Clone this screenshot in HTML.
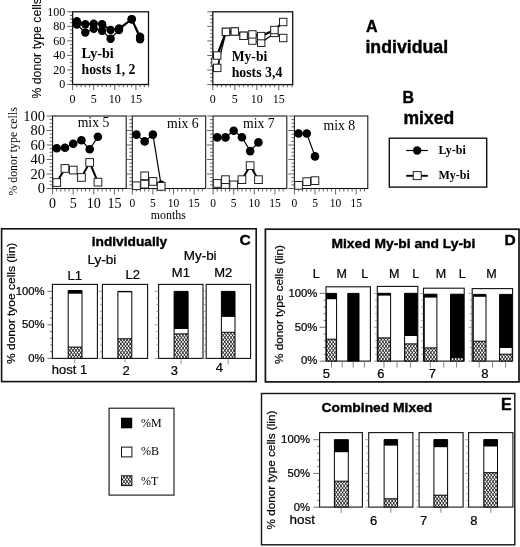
<!DOCTYPE html><html><head><meta charset="utf-8"><style>html,body{margin:0;padding:0;background:#fff}svg{display:block;will-change:transform}.sa{font-family:"Liberation Sans",sans-serif;stroke:#000;stroke-width:.22px}.sa[font-weight=bold]{stroke-width:.4px}.se{font-family:"Liberation Serif",serif}</style></head><body><svg width="520" height="547" viewBox="0 0 520 547"><defs><pattern id="h" width="31.0" height="43.00" patternUnits="userSpaceOnUse"><rect width="31.0" height="43.00" fill="#fff"/><path d="M-34.10 0L-3.10 43.00M-3.10 0L-34.10 43.00M-31.00 0L0.00 43.00M0.00 0L-31.00 43.00M-27.90 0L3.10 43.00M3.10 0L-27.90 43.00M-24.80 0L6.20 43.00M6.20 0L-24.80 43.00M-21.70 0L9.30 43.00M9.30 0L-21.70 43.00M-18.60 0L12.40 43.00M12.40 0L-18.60 43.00M-15.50 0L15.50 43.00M15.50 0L-15.50 43.00M-12.40 0L18.60 43.00M18.60 0L-12.40 43.00M-9.30 0L21.70 43.00M21.70 0L-9.30 43.00M-6.20 0L24.80 43.00M24.80 0L-6.20 43.00M-3.10 0L27.90 43.00M27.90 0L-3.10 43.00M0.00 0L31.00 43.00M31.00 0L0.00 43.00M3.10 0L34.10 43.00M34.10 0L3.10 43.00M6.20 0L37.20 43.00M37.20 0L6.20 43.00M9.30 0L40.30 43.00M40.30 0L9.30 43.00M12.40 0L43.40 43.00M43.40 0L12.40 43.00M15.50 0L46.50 43.00M46.50 0L15.50 43.00M18.60 0L49.60 43.00M49.60 0L18.60 43.00M21.70 0L52.70 43.00M52.70 0L21.70 43.00M24.80 0L55.80 43.00M55.80 0L24.80 43.00M27.90 0L58.90 43.00M58.90 0L27.90 43.00M31.00 0L62.00 43.00M62.00 0L31.00 43.00" stroke="#000" stroke-width="0.8"/></pattern></defs><rect width="520" height="547" fill="#fff"/><rect x="72.6" y="11.8" width="75.9" height="72.7" fill="#fff" stroke="#111" stroke-width="1.3"/><path d="M72.60 84.5v5.5M76.82 84.5v2.7M81.04 84.5v2.7M85.26 84.5v2.7M89.48 84.5v2.7M93.70 84.5v5.5M97.92 84.5v2.7M102.14 84.5v2.7M106.36 84.5v2.7M110.58 84.5v2.7M114.80 84.5v5.5M119.02 84.5v2.7M123.24 84.5v2.7M127.46 84.5v2.7M131.68 84.5v2.7M135.90 84.5v5.5M140.12 84.5v2.7M144.34 84.5v2.7M148.56 84.5v2.7M72.6 84.50h-5.5M72.6 80.86h-2.7M72.6 77.23h-2.7M72.6 73.59h-2.7M72.6 69.96h-5.5M72.6 66.33h-2.7M72.6 62.69h-2.7M72.6 59.05h-2.7M72.6 55.42h-5.5M72.6 51.79h-2.7M72.6 48.15h-2.7M72.6 44.52h-2.7M72.6 40.88h-5.5M72.6 37.25h-2.7M72.6 33.61h-2.7M72.6 29.98h-2.7M72.6 26.34h-5.5M72.6 22.70h-2.7M72.6 19.07h-2.7M72.6 15.44h-2.7M72.6 11.80h-5.5" stroke="#333" stroke-width="0.75" fill="none"/><text x="65.2" y="88.4" class="se" font-size="12" text-anchor="end" font-weight="normal" >0</text><text x="65.2" y="73.86000000000001" class="se" font-size="12" text-anchor="end" font-weight="normal" >20</text><text x="65.2" y="59.32" class="se" font-size="12" text-anchor="end" font-weight="normal" >40</text><text x="65.2" y="44.78" class="se" font-size="12" text-anchor="end" font-weight="normal" >60</text><text x="65.2" y="30.240000000000002" class="se" font-size="12" text-anchor="end" font-weight="normal" >80</text><text x="65.2" y="15.699999999999998" class="se" font-size="12" text-anchor="end" font-weight="normal" >100</text><text x="72.6" y="103" class="se" font-size="12" text-anchor="middle" font-weight="normal" >0</text><text x="93.69999999999999" y="103" class="se" font-size="12" text-anchor="middle" font-weight="normal" >5</text><text x="114.79999999999998" y="103" class="se" font-size="12" text-anchor="middle" font-weight="normal" >10</text><text x="135.89999999999998" y="103" class="se" font-size="12" text-anchor="middle" font-weight="normal" >15</text><path d="M76.8 21.3 L85.3 24.2 L93.7 23.8 L102.1 24.2 L110.6 30.0 L119.0 28.5 L131.7 19.3 L140.1 36.8" stroke="#000" stroke-width="2" fill="none"/><circle cx="76.8" cy="21.3" r="4.2" fill="#000"/><circle cx="85.3" cy="24.2" r="4.2" fill="#000"/><circle cx="93.7" cy="23.8" r="4.2" fill="#000"/><circle cx="102.1" cy="24.2" r="4.2" fill="#000"/><circle cx="110.6" cy="30.0" r="4.2" fill="#000"/><circle cx="119.0" cy="28.5" r="4.2" fill="#000"/><circle cx="131.7" cy="19.3" r="4.2" fill="#000"/><circle cx="140.1" cy="36.8" r="4.2" fill="#000"/><path d="M76.8 24.5 L85.3 32.5 L93.7 28.8 L102.1 30.7 L110.6 38.7 L119.0 30.0 L131.7 19.3 L140.1 39.4" stroke="#000" stroke-width="1.2" fill="none"/><circle cx="76.8" cy="24.5" r="4.2" fill="#000"/><circle cx="85.3" cy="32.5" r="4.2" fill="#000"/><circle cx="93.7" cy="28.8" r="4.2" fill="#000"/><circle cx="102.1" cy="30.7" r="4.2" fill="#000"/><circle cx="110.6" cy="38.7" r="4.2" fill="#000"/><circle cx="119.0" cy="30.0" r="4.2" fill="#000"/><circle cx="131.7" cy="19.3" r="4.2" fill="#000"/><circle cx="140.1" cy="39.4" r="4.2" fill="#000"/><text x="81.5" y="57.7" class="se" font-size="14" text-anchor="start" font-weight="bold" textLength="32.3" lengthAdjust="spacingAndGlyphs">Ly-bi</text><text x="81.5" y="73.7" class="se" font-size="14" text-anchor="start" font-weight="bold" textLength="53.9" lengthAdjust="spacingAndGlyphs">hosts 1, 2</text><text transform="translate(41.2,98.6) rotate(-90)" class="sa" style="stroke-width:.08px" font-size="12.3" textLength="100.5" lengthAdjust="spacingAndGlyphs">% donor type cells</text><rect x="212.8" y="11.8" width="79.89999999999998" height="72.8" fill="#fff" stroke="#111" stroke-width="1.3"/><path d="M212.80 84.6v5.5M217.20 84.6v2.7M221.60 84.6v2.7M226.00 84.6v2.7M230.40 84.6v2.7M234.80 84.6v5.5M239.20 84.6v2.7M243.60 84.6v2.7M248.00 84.6v2.7M252.40 84.6v2.7M256.80 84.6v5.5M261.20 84.6v2.7M265.60 84.6v2.7M270.00 84.6v2.7M274.40 84.6v2.7M278.80 84.6v5.5M283.20 84.6v2.7M287.60 84.6v2.7M292.00 84.6v2.7M212.8 84.60h-5.5M212.8 80.96h-2.7M212.8 77.32h-2.7M212.8 73.68h-2.7M212.8 70.04h-5.5M212.8 66.40h-2.7M212.8 62.76h-2.7M212.8 59.12h-2.7M212.8 55.48h-5.5M212.8 51.84h-2.7M212.8 48.20h-2.7M212.8 44.56h-2.7M212.8 40.92h-5.5M212.8 37.28h-2.7M212.8 33.64h-2.7M212.8 30.00h-2.7M212.8 26.36h-5.5M212.8 22.72h-2.7M212.8 19.08h-2.7M212.8 15.44h-2.7M212.8 11.80h-5.5" stroke="#333" stroke-width="0.75" fill="none"/><text x="212.8" y="103" class="se" font-size="12" text-anchor="middle" font-weight="normal" >0</text><text x="234.8" y="103" class="se" font-size="12" text-anchor="middle" font-weight="normal" >5</text><text x="256.8" y="103" class="se" font-size="12" text-anchor="middle" font-weight="normal" >10</text><text x="278.8" y="103" class="se" font-size="12" text-anchor="middle" font-weight="normal" >15</text><rect x="211.8" y="58" width="7.4" height="7.4" fill="#fff" stroke="#222" stroke-width="1"/><path d="M217.2 67.9 L226.0 31.9 L234.8 31.5 L243.6 35.8 L252.4 40.6 L261.2 42.8 L274.4 32.9 L283.2 38.0" stroke="#000" stroke-width="1.2" fill="none"/><rect x="213.5" y="64.2" width="7.4" height="7.4" fill="#fff" stroke="#222" stroke-width="1"/><rect x="222.3" y="28.2" width="7.4" height="7.4" fill="#fff" stroke="#222" stroke-width="1"/><rect x="231.1" y="27.8" width="7.4" height="7.4" fill="#fff" stroke="#222" stroke-width="1"/><rect x="239.9" y="32.1" width="7.4" height="7.4" fill="#fff" stroke="#222" stroke-width="1"/><rect x="248.7" y="36.9" width="7.4" height="7.4" fill="#fff" stroke="#222" stroke-width="1"/><rect x="257.5" y="39.1" width="7.4" height="7.4" fill="#fff" stroke="#222" stroke-width="1"/><rect x="270.7" y="29.2" width="7.4" height="7.4" fill="#fff" stroke="#222" stroke-width="1"/><rect x="279.5" y="34.3" width="7.4" height="7.4" fill="#fff" stroke="#222" stroke-width="1"/><path d="M217.2 55.5 L226.0 31.9 L234.8 31.5 L243.6 35.8 L252.4 34.4 L261.2 36.1 L274.4 30.0 L283.2 22.0" stroke="#000" stroke-width="2.2" fill="none"/><rect x="213.5" y="51.8" width="7.4" height="7.4" fill="#fff" stroke="#222" stroke-width="1"/><rect x="222.3" y="28.2" width="7.4" height="7.4" fill="#fff" stroke="#222" stroke-width="1"/><rect x="231.1" y="27.8" width="7.4" height="7.4" fill="#fff" stroke="#222" stroke-width="1"/><rect x="239.9" y="32.1" width="7.4" height="7.4" fill="#fff" stroke="#222" stroke-width="1"/><rect x="248.7" y="30.7" width="7.4" height="7.4" fill="#fff" stroke="#222" stroke-width="1"/><rect x="257.5" y="32.4" width="7.4" height="7.4" fill="#fff" stroke="#222" stroke-width="1"/><rect x="270.7" y="26.3" width="7.4" height="7.4" fill="#fff" stroke="#222" stroke-width="1"/><rect x="279.5" y="18.3" width="7.4" height="7.4" fill="#fff" stroke="#222" stroke-width="1"/><text x="231.7" y="61.2" class="se" font-size="14" text-anchor="start" font-weight="bold" textLength="35.6" lengthAdjust="spacingAndGlyphs">My-bi</text><text x="231.7" y="76.5" class="se" font-size="14" text-anchor="start" font-weight="bold" textLength="50.6" lengthAdjust="spacingAndGlyphs">hosts 3,4</text><text x="366" y="31.6" class="sa" font-size="16" text-anchor="start" font-weight="bold" >A</text><text x="365.4" y="53" class="sa" font-size="17.5" text-anchor="start" font-weight="bold" textLength="82.7" lengthAdjust="spacingAndGlyphs">individual</text><text x="402.6" y="102.7" class="sa" font-size="16" text-anchor="start" font-weight="bold" >B</text><text x="403.5" y="123.6" class="sa" font-size="17.5" text-anchor="start" font-weight="bold" textLength="50.6" lengthAdjust="spacingAndGlyphs">mixed</text><rect x="52.6" y="116" width="73.6" height="72.5" fill="#fff" stroke="#111" stroke-width="1.05"/><path d="M52.60 188.5v6M56.72 188.5v3M60.84 188.5v3M64.96 188.5v3M69.08 188.5v3M73.20 188.5v6M77.32 188.5v3M81.44 188.5v3M85.56 188.5v3M89.68 188.5v3M93.80 188.5v6M97.92 188.5v3M102.04 188.5v3M106.16 188.5v3M110.28 188.5v3M114.40 188.5v6M118.52 188.5v3M122.64 188.5v3M52.6 188.50h-6M52.6 184.88h-3M52.6 181.25h-3M52.6 177.62h-3M52.6 174.00h-6M52.6 170.38h-3M52.6 166.75h-3M52.6 163.12h-3M52.6 159.50h-6M52.6 155.88h-3M52.6 152.25h-3M52.6 148.62h-3M52.6 145.00h-6M52.6 141.38h-3M52.6 137.75h-3M52.6 134.12h-3M52.6 130.50h-6M52.6 126.88h-3M52.6 123.25h-3M52.6 119.62h-3M52.6 116.00h-6" stroke="#333" stroke-width="0.75" fill="none"/><text x="52.6" y="208.4" class="se" font-size="14" text-anchor="middle" font-weight="normal" >0</text><text x="73.2" y="208.4" class="se" font-size="14" text-anchor="middle" font-weight="normal" >5</text><text x="93.80000000000001" y="208.4" class="se" font-size="14" text-anchor="middle" font-weight="normal" >10</text><text x="114.4" y="208.4" class="se" font-size="14" text-anchor="middle" font-weight="normal" >15</text><path d="M56.7 148.3 L65.0 147.7 L73.2 143.7 L81.4 140.3 L89.7 149.3 L97.9 136.7" stroke="#000" stroke-width="1.2" fill="none"/><circle cx="56.7" cy="148.3" r="4.3" fill="#000"/><circle cx="65.0" cy="147.7" r="4.3" fill="#000"/><circle cx="73.2" cy="143.7" r="4.3" fill="#000"/><circle cx="81.4" cy="140.3" r="4.3" fill="#000"/><circle cx="89.7" cy="149.3" r="4.3" fill="#000"/><circle cx="97.9" cy="136.7" r="4.3" fill="#000"/><path d="M56.7 182.6 L65.0 168.4 L73.2 170.1 L81.4 177.5 L89.7 162.5 L97.9 182.1" stroke="#000" stroke-width="2" fill="none"/><rect x="52.9" y="178.7" width="7.7" height="7.7" fill="#fff" stroke="#222" stroke-width="1"/><rect x="61.1" y="164.6" width="7.7" height="7.7" fill="#fff" stroke="#222" stroke-width="1"/><rect x="69.4" y="166.2" width="7.7" height="7.7" fill="#fff" stroke="#222" stroke-width="1"/><rect x="77.6" y="173.6" width="7.7" height="7.7" fill="#fff" stroke="#222" stroke-width="1"/><rect x="85.8" y="158.6" width="7.7" height="7.7" fill="#fff" stroke="#222" stroke-width="1"/><rect x="94.1" y="178.3" width="7.7" height="7.7" fill="#fff" stroke="#222" stroke-width="1"/><text x="93.5" y="126.8" class="se" font-size="14" text-anchor="middle" font-weight="normal" textLength="31.7" lengthAdjust="spacingAndGlyphs">mix 5</text><rect x="132.3" y="116" width="73.39999999999998" height="72.5" fill="#fff" stroke="#111" stroke-width="1.05"/><path d="M132.30 188.5v6M136.42 188.5v3M140.54 188.5v3M144.66 188.5v3M148.78 188.5v3M152.90 188.5v6M157.02 188.5v3M161.14 188.5v3M165.26 188.5v3M169.38 188.5v3M173.50 188.5v6M177.62 188.5v3M181.74 188.5v3M185.86 188.5v3M189.98 188.5v3M194.10 188.5v6M198.22 188.5v3M202.34 188.5v3M132.3 188.50h-6M132.3 184.88h-3M132.3 181.25h-3M132.3 177.62h-3M132.3 174.00h-6M132.3 170.38h-3M132.3 166.75h-3M132.3 163.12h-3M132.3 159.50h-6M132.3 155.88h-3M132.3 152.25h-3M132.3 148.62h-3M132.3 145.00h-6M132.3 141.38h-3M132.3 137.75h-3M132.3 134.12h-3M132.3 130.50h-6M132.3 126.88h-3M132.3 123.25h-3M132.3 119.62h-3M132.3 116.00h-6" stroke="#333" stroke-width="0.75" fill="none"/><text x="132.3" y="207" class="se" font-size="11.5" text-anchor="middle" font-weight="normal" >0</text><text x="152.9" y="207" class="se" font-size="11.5" text-anchor="middle" font-weight="normal" >5</text><text x="173.5" y="207" class="se" font-size="11.5" text-anchor="middle" font-weight="normal" >10</text><text x="194.10000000000002" y="207" class="se" font-size="11.5" text-anchor="middle" font-weight="normal" >15</text><path d="M136.4 134.6 L144.7 141.4 L152.9 134.6 L161.1 184.9" stroke="#000" stroke-width="1.2" fill="none"/><circle cx="136.4" cy="134.6" r="4.3" fill="#000"/><circle cx="144.7" cy="141.4" r="4.3" fill="#000"/><circle cx="152.9" cy="134.6" r="4.3" fill="#000"/><circle cx="161.1" cy="184.9" r="4.3" fill="#000"/><path d="M136.4 185.7 L144.7 184.2 L144.7 175.8 L152.9 181.5 L161.1 186.3" stroke="#000" stroke-width="2" fill="none"/><rect x="132.6" y="181.9" width="7.7" height="7.7" fill="#fff" stroke="#222" stroke-width="1"/><rect x="140.8" y="180.3" width="7.7" height="7.7" fill="#fff" stroke="#222" stroke-width="1"/><rect x="140.8" y="172.0" width="7.7" height="7.7" fill="#fff" stroke="#222" stroke-width="1"/><rect x="149.1" y="177.6" width="7.7" height="7.7" fill="#fff" stroke="#222" stroke-width="1"/><rect x="157.3" y="182.5" width="7.7" height="7.7" fill="#fff" stroke="#222" stroke-width="1"/><text x="182.8" y="128.3" class="se" font-size="14" text-anchor="middle" font-weight="normal" textLength="31.7" lengthAdjust="spacingAndGlyphs">mix 6</text><rect x="213.1" y="116" width="73.70000000000002" height="72.5" fill="#fff" stroke="#111" stroke-width="1.05"/><path d="M213.10 188.5v6M217.22 188.5v3M221.34 188.5v3M225.46 188.5v3M229.58 188.5v3M233.70 188.5v6M237.82 188.5v3M241.94 188.5v3M246.06 188.5v3M250.18 188.5v3M254.30 188.5v6M258.42 188.5v3M262.54 188.5v3M266.66 188.5v3M270.78 188.5v3M274.90 188.5v6M279.02 188.5v3M283.14 188.5v3M213.1 188.50h-6M213.1 184.88h-3M213.1 181.25h-3M213.1 177.62h-3M213.1 174.00h-6M213.1 170.38h-3M213.1 166.75h-3M213.1 163.12h-3M213.1 159.50h-6M213.1 155.88h-3M213.1 152.25h-3M213.1 148.62h-3M213.1 145.00h-6M213.1 141.38h-3M213.1 137.75h-3M213.1 134.12h-3M213.1 130.50h-6M213.1 126.88h-3M213.1 123.25h-3M213.1 119.62h-3M213.1 116.00h-6" stroke="#333" stroke-width="0.75" fill="none"/><text x="213.1" y="207" class="se" font-size="11.5" text-anchor="middle" font-weight="normal" >0</text><text x="233.7" y="207" class="se" font-size="11.5" text-anchor="middle" font-weight="normal" >5</text><text x="254.3" y="207" class="se" font-size="11.5" text-anchor="middle" font-weight="normal" >10</text><text x="274.9" y="207" class="se" font-size="11.5" text-anchor="middle" font-weight="normal" >15</text><path d="M217.2 137.4 L225.5 137.4 L233.7 130.8 L241.9 137.2 L250.2 151.1 L258.4 142.4" stroke="#000" stroke-width="1.2" fill="none"/><circle cx="217.2" cy="137.4" r="4.3" fill="#000"/><circle cx="225.5" cy="137.4" r="4.3" fill="#000"/><circle cx="233.7" cy="130.8" r="4.3" fill="#000"/><circle cx="241.9" cy="137.2" r="4.3" fill="#000"/><circle cx="250.2" cy="151.1" r="4.3" fill="#000"/><circle cx="258.4" cy="142.4" r="4.3" fill="#000"/><path d="M217.2 183.4 L225.5 184.5 L225.5 179.7 L233.7 184.9 L241.9 179.7 L250.2 165.7 L258.4 179.7" stroke="#000" stroke-width="2" fill="none"/><rect x="213.4" y="179.6" width="7.7" height="7.7" fill="#fff" stroke="#222" stroke-width="1"/><rect x="221.6" y="180.7" width="7.7" height="7.7" fill="#fff" stroke="#222" stroke-width="1"/><rect x="221.6" y="175.8" width="7.7" height="7.7" fill="#fff" stroke="#222" stroke-width="1"/><rect x="229.8" y="181.0" width="7.7" height="7.7" fill="#fff" stroke="#222" stroke-width="1"/><rect x="238.1" y="175.8" width="7.7" height="7.7" fill="#fff" stroke="#222" stroke-width="1"/><rect x="246.3" y="161.8" width="7.7" height="7.7" fill="#fff" stroke="#222" stroke-width="1"/><rect x="254.6" y="175.8" width="7.7" height="7.7" fill="#fff" stroke="#222" stroke-width="1"/><text x="258.9" y="127.8" class="se" font-size="14" text-anchor="middle" font-weight="normal" textLength="31.7" lengthAdjust="spacingAndGlyphs">mix 7</text><rect x="294.4" y="116" width="73.40000000000003" height="72.5" fill="#fff" stroke="#111" stroke-width="1.05"/><path d="M294.40 188.5v6M298.52 188.5v3M302.64 188.5v3M306.76 188.5v3M310.88 188.5v3M315.00 188.5v6M319.12 188.5v3M323.24 188.5v3M327.36 188.5v3M331.48 188.5v3M335.60 188.5v6M339.72 188.5v3M343.84 188.5v3M347.96 188.5v3M352.08 188.5v3M356.20 188.5v6M360.32 188.5v3M364.44 188.5v3M294.4 188.50h-6M294.4 184.88h-3M294.4 181.25h-3M294.4 177.62h-3M294.4 174.00h-6M294.4 170.38h-3M294.4 166.75h-3M294.4 163.12h-3M294.4 159.50h-6M294.4 155.88h-3M294.4 152.25h-3M294.4 148.62h-3M294.4 145.00h-6M294.4 141.38h-3M294.4 137.75h-3M294.4 134.12h-3M294.4 130.50h-6M294.4 126.88h-3M294.4 123.25h-3M294.4 119.62h-3M294.4 116.00h-6" stroke="#333" stroke-width="0.75" fill="none"/><text x="294.4" y="207" class="se" font-size="11.5" text-anchor="middle" font-weight="normal" >0</text><text x="315.0" y="207" class="se" font-size="11.5" text-anchor="middle" font-weight="normal" >5</text><text x="335.59999999999997" y="207" class="se" font-size="11.5" text-anchor="middle" font-weight="normal" >10</text><text x="356.2" y="207" class="se" font-size="11.5" text-anchor="middle" font-weight="normal" >15</text><path d="M298.5 133.5 L306.8 133.5 L315.0 156.4" stroke="#000" stroke-width="1.2" fill="none"/><circle cx="298.5" cy="133.5" r="4.3" fill="#000"/><circle cx="306.8" cy="133.5" r="4.3" fill="#000"/><circle cx="315.0" cy="156.4" r="4.3" fill="#000"/><path d="M298.5 185.3 L306.8 181.7 L315.0 180.7" stroke="#000" stroke-width="2" fill="none"/><rect x="294.7" y="181.5" width="7.7" height="7.7" fill="#fff" stroke="#222" stroke-width="1"/><rect x="302.9" y="177.8" width="7.7" height="7.7" fill="#fff" stroke="#222" stroke-width="1"/><rect x="311.1" y="176.8" width="7.7" height="7.7" fill="#fff" stroke="#222" stroke-width="1"/><text x="339.4" y="130.4" class="se" font-size="14" text-anchor="middle" font-weight="normal" textLength="31.7" lengthAdjust="spacingAndGlyphs">mix 8</text><text x="45" y="193.0" class="se" font-size="14.5" text-anchor="end" font-weight="normal" >0</text><text x="45" y="178.5" class="se" font-size="14.5" text-anchor="end" font-weight="normal" >20</text><text x="45" y="164.0" class="se" font-size="14.5" text-anchor="end" font-weight="normal" >40</text><text x="45" y="149.5" class="se" font-size="14.5" text-anchor="end" font-weight="normal" >60</text><text x="45" y="135.0" class="se" font-size="14.5" text-anchor="end" font-weight="normal" >80</text><text x="45" y="120.5" class="se" font-size="14.5" text-anchor="end" font-weight="normal" >100</text><text transform="translate(17.3,195.6) rotate(-90)" class="se" font-size="12.8" textLength="88.4" lengthAdjust="spacingAndGlyphs">% donor type cells</text><text x="150.8" y="218.8" class="se" font-size="12" text-anchor="start" font-weight="normal" textLength="35" lengthAdjust="spacingAndGlyphs">months</text><rect x="389.3" y="138.2" width="97.4" height="48.9" fill="#fff" stroke="#111" stroke-width="1.4"/><path d="M406.2 150.5H427.8" stroke="#000" stroke-width="1.2"/><circle cx="417.2" cy="150.5" r="4.2" fill="#000"/><path d="M406.2 175.8H427.8" stroke="#000" stroke-width="1.9"/><rect x="413.2" y="171.6" width="8" height="8" fill="#fff" stroke="#222" stroke-width="1"/><text x="438.5" y="153.9" class="se" font-size="12" text-anchor="start" font-weight="bold" >Ly-bi</text><text x="438.5" y="179.2" class="se" font-size="12" text-anchor="start" font-weight="bold" >My-bi</text><rect x="1.6" y="228.8" width="254.6" height="152.8" fill="#fff" stroke="#111" stroke-width="1.6"/><text x="91.7" y="245.6" class="sa" font-size="13.7" text-anchor="start" font-weight="bold" textLength="75.5" lengthAdjust="spacingAndGlyphs">individually</text><text x="239.5" y="244.6" class="sa" font-size="15.5" text-anchor="start" font-weight="bold" >C</text><text x="87.4" y="263.5" class="sa" font-size="13" text-anchor="start" font-weight="normal" textLength="29" lengthAdjust="spacingAndGlyphs">Ly-bi</text><text x="183.8" y="260.2" class="sa" font-size="13" text-anchor="start" font-weight="normal" textLength="32.8" lengthAdjust="spacingAndGlyphs">My-bi</text><text x="67.6" y="279.5" class="sa" font-size="13" text-anchor="start" font-weight="normal" >L1</text><text x="125.6" y="279.3" class="sa" font-size="13" text-anchor="start" font-weight="normal" >L2</text><text x="171.8" y="276.7" class="sa" font-size="13" text-anchor="start" font-weight="normal" >M1</text><text x="214.2" y="276.7" class="sa" font-size="13" text-anchor="start" font-weight="normal" >M2</text><rect x="52.4" y="284.4" width="45.00000000000001" height="74.0" fill="#fff" stroke="#111" stroke-width="1.1"/><path d="M52.4 358.40h-5M52.4 351.69h-2.3M52.4 344.98h-2.3M52.4 338.27h-2.3M52.4 331.56h-2.3M52.4 324.85h-5M52.4 318.14h-2.3M52.4 311.43h-2.3M52.4 304.72h-2.3M52.4 298.01h-2.3M52.4 291.30h-5" stroke="#333" stroke-width="0.7" fill="none"/><rect x="102.4" y="284.4" width="45.19999999999999" height="74.0" fill="#fff" stroke="#111" stroke-width="1.1"/><path d="M102.4 358.40h-4M102.4 351.69h-2.3M102.4 344.98h-2.3M102.4 338.27h-2.3M102.4 331.56h-2.3M102.4 324.85h-4M102.4 318.14h-2.3M102.4 311.43h-2.3M102.4 304.72h-2.3M102.4 298.01h-2.3M102.4 291.30h-4" stroke="#777" stroke-width="0.7" fill="none"/><rect x="158.6" y="284.4" width="44.400000000000006" height="74.0" fill="#fff" stroke="#111" stroke-width="1.1"/><path d="M158.6 358.40h-4M158.6 351.69h-2.3M158.6 344.98h-2.3M158.6 338.27h-2.3M158.6 331.56h-2.3M158.6 324.85h-4M158.6 318.14h-2.3M158.6 311.43h-2.3M158.6 304.72h-2.3M158.6 298.01h-2.3M158.6 291.30h-4" stroke="#777" stroke-width="0.7" fill="none"/><rect x="206.2" y="284.4" width="44.400000000000006" height="74.0" fill="#fff" stroke="#111" stroke-width="1.1"/><path d="M206.2 358.40h-4M206.2 351.69h-2.3M206.2 344.98h-2.3M206.2 338.27h-2.3M206.2 331.56h-2.3M206.2 324.85h-4M206.2 318.14h-2.3M206.2 311.43h-2.3M206.2 304.72h-2.3M206.2 298.01h-2.3M206.2 291.30h-4" stroke="#777" stroke-width="0.7" fill="none"/><rect x="68.2" y="290.5" width="13.799999999999997" height="67.89999999999998" fill="#fff" stroke="none"/><rect x="68.2" y="347.1" width="13.799999999999997" height="11.299999999999955" fill="url(#h)"/><rect x="68.2" y="290.5" width="13.799999999999997" height="3.1999999999999886" fill="#000"/><path d="M68.2 290.5H82V358.4H68.2ZM68.2 347.1H82" stroke="#000" stroke-width="1" fill="none"/><rect x="117.9" y="291.4" width="13.900000000000006" height="67.0" fill="#fff" stroke="none"/><rect x="117.9" y="338.8" width="13.900000000000006" height="19.599999999999966" fill="url(#h)"/><rect x="117.9" y="291.4" width="13.900000000000006" height="0.9000000000000341" fill="#000"/><path d="M117.9 291.4H131.8V358.4H117.9ZM117.9 338.8H131.8" stroke="#000" stroke-width="1" fill="none"/><rect x="174.1" y="291.4" width="14.0" height="67.0" fill="#fff" stroke="none"/><rect x="174.1" y="333.9" width="14.0" height="24.5" fill="url(#h)"/><rect x="174.1" y="291.4" width="14.0" height="37.60000000000002" fill="#000"/><path d="M174.1 291.4H188.1V358.4H174.1ZM174.1 333.9H188.1" stroke="#000" stroke-width="1" fill="none"/><rect x="221.4" y="291.4" width="13.599999999999994" height="67.0" fill="#fff" stroke="none"/><rect x="221.4" y="332.3" width="13.599999999999994" height="26.099999999999966" fill="url(#h)"/><rect x="221.4" y="291.4" width="13.599999999999994" height="25.5" fill="#000"/><path d="M221.4 291.4H235V358.4H221.4ZM221.4 332.3H235" stroke="#000" stroke-width="1" fill="none"/><text x="44.6" y="294.6" class="sa" font-size="11.3" text-anchor="end" font-weight="normal" >100%</text><text x="44.6" y="328.2" class="sa" font-size="11.3" text-anchor="end" font-weight="normal" >50%</text><text x="44.6" y="361.9" class="sa" font-size="11.3" text-anchor="end" font-weight="normal" >0%</text><text transform="translate(15.4,364) rotate(-90)" class="sa" font-size="11.3" textLength="121.3" lengthAdjust="spacingAndGlyphs">% donor tyoe cells (lin)</text><path d="M74.8 358.4v4.8M125 358.4v4M181 358.4v5.8M228.2 358.4v6" stroke="#777" stroke-width="0.8"/><text x="51.8" y="374.2" class="sa" font-size="13" text-anchor="start" font-weight="normal" textLength="35.4" lengthAdjust="spacingAndGlyphs">host 1</text><text x="126" y="374.8" class="sa" font-size="13" text-anchor="middle" font-weight="normal" >2</text><text x="174.3" y="374.8" class="sa" font-size="13" text-anchor="middle" font-weight="normal" >3</text><text x="219.3" y="371.5" class="sa" font-size="13" text-anchor="middle" font-weight="normal" >4</text><rect x="109.1" y="408.2" width="64.9" height="86.9" fill="#fff" stroke="#111" stroke-width="1.1"/><rect x="121" y="417.7" width="11.2" height="10.6" fill="#000"/><rect x="121.5" y="447.1" width="10.4" height="9.8" fill="#fff" stroke="#111" stroke-width="1"/><rect x="121.5" y="475.8" width="10.4" height="9.8" fill="url(#h)" stroke="#111" stroke-width="1"/><text x="141" y="427.1" class="se" font-size="12" text-anchor="start" font-weight="normal" >%M</text><text x="141" y="455.4" class="se" font-size="12" text-anchor="start" font-weight="normal" >%B</text><text x="141" y="484.5" class="se" font-size="12" text-anchor="start" font-weight="normal" >%T</text><rect x="265.4" y="229.2" width="253.6" height="152.7" fill="#fff" stroke="#111" stroke-width="1.7"/><text x="331.5" y="247.7" class="sa" font-size="13.5" text-anchor="start" font-weight="bold" textLength="143.8" lengthAdjust="spacingAndGlyphs">Mixed My-bi and Ly-bi</text><text x="504.6" y="244.9" class="sa" font-size="15.5" text-anchor="start" font-weight="bold" >D</text><text x="312.7" y="277.6" class="sa" font-size="12.5" text-anchor="start" font-weight="normal" >L</text><text x="336.4" y="277.6" class="sa" font-size="12.5" text-anchor="start" font-weight="normal" >M</text><text x="361.2" y="277.6" class="sa" font-size="12.5" text-anchor="start" font-weight="normal" >L</text><text x="389" y="277.6" class="sa" font-size="12.5" text-anchor="start" font-weight="normal" >M</text><text x="412.3" y="277.6" class="sa" font-size="12.5" text-anchor="start" font-weight="normal" >L</text><text x="435.8" y="277.6" class="sa" font-size="12.5" text-anchor="start" font-weight="normal" >M</text><text x="458.8" y="277.6" class="sa" font-size="12.5" text-anchor="start" font-weight="normal" >L</text><text x="486.2" y="277.6" class="sa" font-size="12.5" text-anchor="start" font-weight="normal" >M</text><rect x="326" y="286.8" width="44.39999999999998" height="74.30000000000001" fill="#fff" stroke="#111" stroke-width="1.1"/><path d="M326 361.10h-6.3M326 354.33h-2.3M326 347.56h-2.3M326 340.79h-2.3M326 334.02h-2.3M326 327.25h-6.3M326 320.48h-2.3M326 313.71h-2.3M326 306.94h-2.3M326 300.17h-2.3M326 293.40h-6.3" stroke="#333" stroke-width="0.7" fill="none"/><rect x="377.3" y="286.4" width="40.5" height="74.70000000000005" fill="#fff" stroke="#111" stroke-width="1.1"/><path d="M377.3 361.10h-3.5M377.3 354.33h-2.3M377.3 347.56h-2.3M377.3 340.79h-2.3M377.3 334.02h-2.3M377.3 327.25h-3.5M377.3 320.48h-2.3M377.3 313.71h-2.3M377.3 306.94h-2.3M377.3 300.17h-2.3M377.3 293.40h-3.5" stroke="#777" stroke-width="0.7" fill="none"/><rect x="423.5" y="288.2" width="40.69999999999999" height="72.90000000000003" fill="#fff" stroke="#111" stroke-width="1.1"/><path d="M423.5 361.10h-3.5M423.5 354.33h-2.3M423.5 347.56h-2.3M423.5 340.79h-2.3M423.5 334.02h-2.3M423.5 327.25h-3.5M423.5 320.48h-2.3M423.5 313.71h-2.3M423.5 306.94h-2.3M423.5 300.17h-2.3M423.5 293.40h-3.5" stroke="#777" stroke-width="0.7" fill="none"/><rect x="472.2" y="288.6" width="40.400000000000034" height="72.5" fill="#fff" stroke="#111" stroke-width="1.1"/><path d="M472.2 361.10h-3.5M472.2 354.33h-2.3M472.2 347.56h-2.3M472.2 340.79h-2.3M472.2 334.02h-2.3M472.2 327.25h-3.5M472.2 320.48h-2.3M472.2 313.71h-2.3M472.2 306.94h-2.3M472.2 300.17h-2.3M472.2 293.40h-3.5" stroke="#777" stroke-width="0.7" fill="none"/><rect x="326.4" y="293.4" width="10.200000000000045" height="67.70000000000005" fill="#fff" stroke="none"/><rect x="326.4" y="339.2" width="10.200000000000045" height="21.900000000000034" fill="url(#h)"/><rect x="326.4" y="293.4" width="10.200000000000045" height="5.800000000000011" fill="#000"/><path d="M326.4 293.4H336.6V361.1H326.4ZM326.4 339.2H336.6" stroke="#000" stroke-width="1" fill="none"/><rect x="347.8" y="293.4" width="11.199999999999989" height="67.70000000000005" fill="#fff" stroke="none"/><rect x="347.8" y="293.4" width="11.199999999999989" height="67.70000000000005" fill="#000"/><path d="M347.8 293.4H359V361.1H347.8Z" stroke="#000" stroke-width="1" fill="none"/><rect x="378" y="293.3" width="12.600000000000023" height="67.80000000000001" fill="#fff" stroke="none"/><rect x="378" y="337.9" width="12.600000000000023" height="23.200000000000045" fill="url(#h)"/><rect x="378" y="293.3" width="12.600000000000023" height="2.3000000000000114" fill="#000"/><path d="M378 293.3H390.6V361.1H378ZM378 337.9H390.6" stroke="#000" stroke-width="1" fill="none"/><rect x="404.6" y="293.3" width="12.699999999999989" height="67.80000000000001" fill="#fff" stroke="none"/><rect x="404.6" y="343.9" width="12.699999999999989" height="17.200000000000045" fill="url(#h)"/><rect x="404.6" y="293.3" width="12.699999999999989" height="42.69999999999999" fill="#000"/><path d="M404.6 293.3H417.3V361.1H404.6ZM404.6 343.9H417.3" stroke="#000" stroke-width="1" fill="none"/><rect x="424.3" y="294.2" width="12.599999999999966" height="66.90000000000003" fill="#fff" stroke="none"/><rect x="424.3" y="347.9" width="12.599999999999966" height="13.200000000000045" fill="url(#h)"/><rect x="424.3" y="294.2" width="12.599999999999966" height="3.400000000000034" fill="#000"/><path d="M424.3 294.2H436.9V361.1H424.3ZM424.3 347.9H436.9" stroke="#000" stroke-width="1" fill="none"/><rect x="450.5" y="294.2" width="13.0" height="66.90000000000003" fill="#fff" stroke="none"/><rect x="450.5" y="357.7" width="13.0" height="3.400000000000034" fill="url(#h)"/><rect x="450.5" y="294.2" width="13.0" height="63.5" fill="#000"/><path d="M450.5 294.2H463.5V361.1H450.5ZM450.5 357.7H463.5" stroke="#000" stroke-width="1" fill="none"/><rect x="473.3" y="294.4" width="12.699999999999989" height="66.70000000000005" fill="#fff" stroke="none"/><rect x="473.3" y="341.2" width="12.699999999999989" height="19.900000000000034" fill="url(#h)"/><rect x="473.3" y="294.4" width="12.699999999999989" height="2.400000000000034" fill="#000"/><path d="M473.3 294.4H486V361.1H473.3ZM473.3 341.2H486" stroke="#000" stroke-width="1" fill="none"/><rect x="499.6" y="294.4" width="12.600000000000023" height="66.70000000000005" fill="#fff" stroke="none"/><rect x="499.6" y="354.2" width="12.600000000000023" height="6.900000000000034" fill="url(#h)"/><rect x="499.6" y="294.4" width="12.600000000000023" height="53.60000000000002" fill="#000"/><path d="M499.6 294.4H512.2V361.1H499.6ZM499.6 354.2H512.2" stroke="#000" stroke-width="1" fill="none"/><text x="317.3" y="297" class="sa" font-size="11.3" text-anchor="end" font-weight="normal" >100%</text><text x="317.3" y="330.8" class="sa" font-size="11.3" text-anchor="end" font-weight="normal" >50%</text><text x="317.3" y="364.2" class="sa" font-size="11.3" text-anchor="end" font-weight="normal" >0%</text><text transform="translate(283.2,364) rotate(-90)" class="sa" font-size="11.3" textLength="119" lengthAdjust="spacingAndGlyphs">% donor type cells (lin)</text><path d="M331.5 361.1v6.5M342.2 361.1v6.5M353.2 361.1v6.5M364.4 361.1v6.5M384 361.1v6.5M397 361.1v6.5M410.6 361.1v6.5M430.3 361.1v6.5M443.7 361.1v6.5M456.6 361.1v6.5M479.2 361.1v6.5M492.5 361.1v6.5M505.6 361.1v6.5" stroke="#666" stroke-width="0.8"/><text x="326.4" y="377.7" class="sa" font-size="13" text-anchor="middle" font-weight="normal" >5</text><text x="380.9" y="377.7" class="sa" font-size="13" text-anchor="middle" font-weight="normal" >6</text><text x="432.3" y="377.7" class="sa" font-size="13" text-anchor="middle" font-weight="normal" >7</text><text x="484.8" y="377.7" class="sa" font-size="13" text-anchor="middle" font-weight="normal" >8</text><rect x="261.5" y="393.5" width="253.3" height="151.3" fill="#fff" stroke="#111" stroke-width="1.4"/><text x="321.6" y="412.4" class="sa" font-size="13.5" text-anchor="start" font-weight="bold" textLength="110.7" lengthAdjust="spacingAndGlyphs">Combined Mixed</text><text x="501" y="409.6" class="sa" font-size="16" text-anchor="start" font-weight="bold" >E</text><rect x="319.6" y="432.6" width="42.799999999999955" height="74.5" fill="#fff" stroke="#111" stroke-width="1.1"/><path d="M319.6 507.10h-6.3M319.6 500.36h-2.3M319.6 493.62h-2.3M319.6 486.88h-2.3M319.6 480.14h-2.3M319.6 473.40h-6.3M319.6 466.66h-2.3M319.6 459.92h-2.3M319.6 453.18h-2.3M319.6 446.44h-2.3M319.6 439.70h-6.3" stroke="#333" stroke-width="0.7" fill="none"/><rect x="368.7" y="432.6" width="44.19999999999999" height="74.5" fill="#fff" stroke="#111" stroke-width="1.1"/><path d="M368.7 507.10h-3.5M368.7 500.36h-2.3M368.7 493.62h-2.3M368.7 486.88h-2.3M368.7 480.14h-2.3M368.7 473.40h-3.5M368.7 466.66h-2.3M368.7 459.92h-2.3M368.7 453.18h-2.3M368.7 446.44h-2.3M368.7 439.70h-3.5" stroke="#777" stroke-width="0.7" fill="none"/><rect x="419.1" y="432.6" width="44.0" height="74.5" fill="#fff" stroke="#111" stroke-width="1.1"/><path d="M419.1 507.10h-3.5M419.1 500.36h-2.3M419.1 493.62h-2.3M419.1 486.88h-2.3M419.1 480.14h-2.3M419.1 473.40h-3.5M419.1 466.66h-2.3M419.1 459.92h-2.3M419.1 453.18h-2.3M419.1 446.44h-2.3M419.1 439.70h-3.5" stroke="#777" stroke-width="0.7" fill="none"/><rect x="468.6" y="432.6" width="44.299999999999955" height="74.5" fill="#fff" stroke="#111" stroke-width="1.1"/><path d="M468.6 507.10h-3.5M468.6 500.36h-2.3M468.6 493.62h-2.3M468.6 486.88h-2.3M468.6 480.14h-2.3M468.6 473.40h-3.5M468.6 466.66h-2.3M468.6 459.92h-2.3M468.6 453.18h-2.3M468.6 446.44h-2.3M468.6 439.70h-3.5" stroke="#777" stroke-width="0.7" fill="none"/><rect x="334.4" y="439.7" width="13.900000000000034" height="67.40000000000003" fill="#fff" stroke="none"/><rect x="334.4" y="481.2" width="13.900000000000034" height="25.900000000000034" fill="url(#h)"/><rect x="334.4" y="439.7" width="13.900000000000034" height="12.5" fill="#000"/><path d="M334.4 439.7H348.3V507.1H334.4ZM334.4 481.2H348.3" stroke="#000" stroke-width="1" fill="none"/><rect x="384.1" y="439.6" width="13.5" height="67.5" fill="#fff" stroke="none"/><rect x="384.1" y="498.8" width="13.5" height="8.300000000000011" fill="url(#h)"/><rect x="384.1" y="439.6" width="13.5" height="6.0" fill="#000"/><path d="M384.1 439.6H397.6V507.1H384.1ZM384.1 498.8H397.6" stroke="#000" stroke-width="1" fill="none"/><rect x="433.9" y="439.6" width="13.700000000000045" height="67.5" fill="#fff" stroke="none"/><rect x="433.9" y="495.2" width="13.700000000000045" height="11.900000000000034" fill="url(#h)"/><rect x="433.9" y="439.6" width="13.700000000000045" height="7.599999999999966" fill="#000"/><path d="M433.9 439.6H447.6V507.1H433.9ZM433.9 495.2H447.6" stroke="#000" stroke-width="1" fill="none"/><rect x="483.8" y="439.6" width="13.699999999999989" height="67.5" fill="#fff" stroke="none"/><rect x="483.8" y="472.7" width="13.699999999999989" height="34.400000000000034" fill="url(#h)"/><rect x="483.8" y="439.6" width="13.699999999999989" height="6.899999999999977" fill="#000"/><path d="M483.8 439.6H497.5V507.1H483.8ZM483.8 472.7H497.5" stroke="#000" stroke-width="1" fill="none"/><text x="310" y="443.4" class="sa" font-size="11.3" text-anchor="end" font-weight="normal" >100%</text><text x="310" y="476.9" class="sa" font-size="11.3" text-anchor="end" font-weight="normal" >50%</text><text x="310" y="510.9" class="sa" font-size="11.3" text-anchor="end" font-weight="normal" >0%</text><text transform="translate(274.8,529.6) rotate(-90)" class="sa" font-size="11.3" textLength="119" lengthAdjust="spacingAndGlyphs">% donor type cells (lin)</text><path d="M341.2 507.1v6M390.8 507.1v5.6M440.9 507.1v5.6M490.8 507.1v5.6" stroke="#666" stroke-width="0.8"/><text x="289.6" y="524.3" class="sa" font-size="13" text-anchor="start" font-weight="normal" textLength="25.5" lengthAdjust="spacingAndGlyphs">host</text><text x="373.5" y="525" class="sa" font-size="13" text-anchor="middle" font-weight="normal" >6</text><text x="423.7" y="525" class="sa" font-size="13" text-anchor="middle" font-weight="normal" >7</text><text x="473.8" y="525" class="sa" font-size="13" text-anchor="middle" font-weight="normal" >8</text></svg></body></html>
